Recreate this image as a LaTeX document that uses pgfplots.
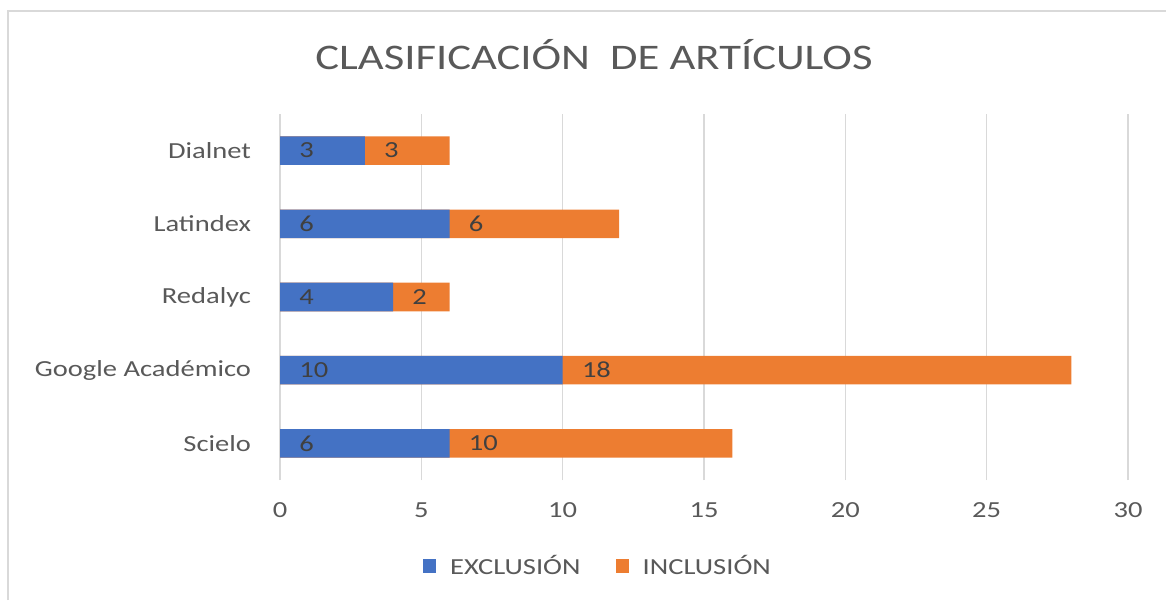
\documentclass[border=0pt]{standalone}
\usepackage{pgfplots}
\pgfplotsset{compat=1.18}
\usepackage{fontspec}
\setmainfont[FakeStretch=1.24]{Carlito}
\definecolor{cblue}{HTML}{4472C4}
\definecolor{corange}{HTML}{ED7D31}
\definecolor{ctext}{HTML}{595959}
\definecolor{clabel}{HTML}{404040}
\definecolor{cgrid}{HTML}{D9D9D9}
\begin{document}
\begin{tikzpicture}
\path[use as bounding box] (0,0) rectangle (583pt,300pt);
\draw[color=cgrid, line width=0.7pt] (4pt,0) -- (4pt,294.5pt) -- (583pt,294.5pt);
\node[font=\fontsize{18}{22}\selectfont, text=ctext] at (297pt,272.5pt) {CLASIFICACIÓN\ \ DE ARTÍCULOS};
\begin{axis}[
  at={(140pt,60pt)}, anchor=south west,
  scale only axis, width=424pt, height=183pt,
  xmin=0, xmax=30, ymin=-0.5, ymax=4.5,
  xtick={0,5,...,30}, ytick={0,1,2,3,4},
  yticklabels={Scielo, Google Académico, Redalyc, Latindex, Dialnet},
  axis line style={draw=none}, major tick length=0,
  xmajorgrids, grid style={cgrid, line width=0.75pt},
  /pgf/number format/assume math mode=true,
  tick label style={font=\fontsize{11.5}{13}\selectfont, text=ctext},
  xticklabel style={yshift=-8pt},
  yticklabel style={xshift=-11pt},
  legend image code/.code={\fill[#1] (0pt,-3.3pt) rectangle (6.6pt,3.3pt);},
  legend style={at={(0.376,-0.235)}, anchor=center, draw=none, legend columns=2,
    font=\fontsize{11.5}{13}\selectfont, text=ctext,
    /tikz/every odd column/.append style={column sep=5pt},
    /tikz/every even column/.append style={column sep=15.5pt}},
]
\addplot[xbar, bar width=0.39, bar shift=0, fill=corange, draw=none, forget plot]
  coordinates {(16,0) (28,1) (6,2) (12,3) (6,4)};
\addplot[xbar, bar width=0.39, bar shift=0, fill=cblue, draw=none, forget plot]
  coordinates {(6,0) (10,1) (4,2) (6,3) (3,4)};
\addplot[only marks, mark=none, forget plot, nodes near coords, point meta=explicit symbolic,
  nodes near coords style={anchor=west, font=\fontsize{11.5}{13}\selectfont, text=clabel, inner sep=0pt}]
  table[meta=l] {
x y l
0.67 0 6
6.67 0 10
0.67 1 10
10.67 1 18
0.67 2 4
4.67 2 2
0.67 3 6
6.67 3 6
0.67 4 3
3.67 4 3
};
\addlegendimage{fill=cblue, draw=none}
\addlegendentry{EXCLUSIÓN}
\addlegendimage{fill=corange, draw=none}
\addlegendentry{INCLUSIÓN}
\end{axis}
\end{tikzpicture}
\end{document}
